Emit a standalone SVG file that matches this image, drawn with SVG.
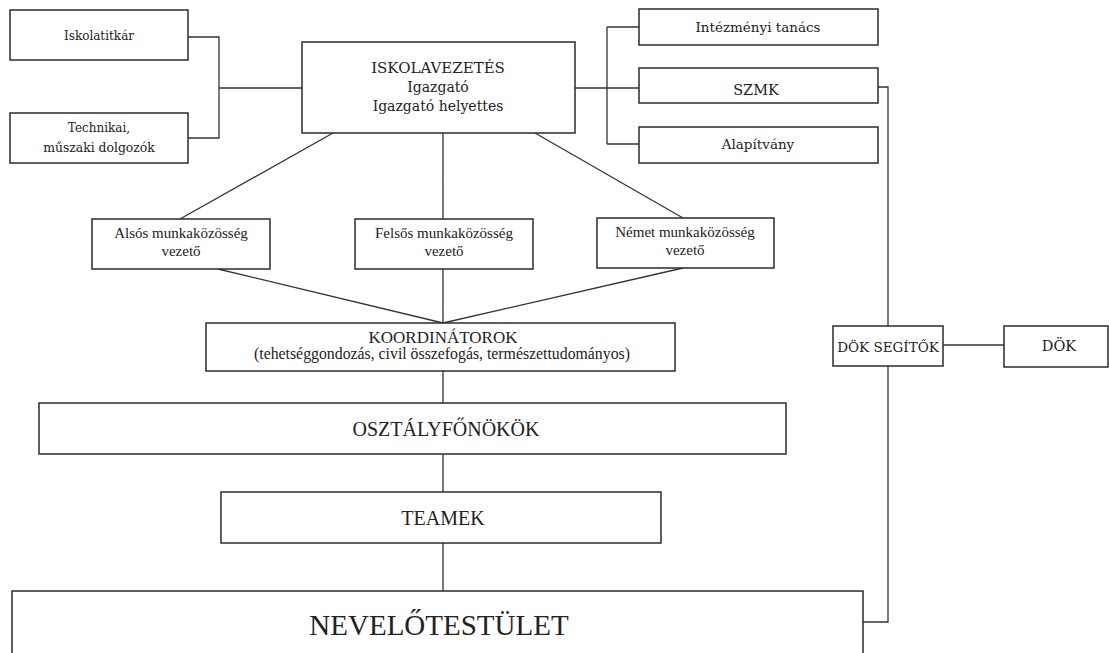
<svg xmlns="http://www.w3.org/2000/svg" width="1109" height="653" viewBox="0 0 1109 653">
<style>
.box{fill:#fff;stroke:#2b2b2b;stroke-width:1.5}
.ln{fill:none;stroke:#333;stroke-width:1.3}
.c{font-family:"DejaVu Serif","Liberation Serif",serif;fill:#222;text-anchor:middle}
.t{font-family:"Liberation Serif","Times New Roman",serif;fill:#222;text-anchor:middle}
</style>
<rect width="1109" height="653" fill="#fff"/>
<g id="connectors">
<path class="ln" d="M188,37 H219 V138 H188 M219,88 H302"/>
<path class="ln" d="M575,88 H639 M607,27 V144 M607,27 H639 M607,144 H639"/>
<path class="ln" d="M878,87 H888 V326 M888,366 V622 H863"/>
<path class="ln" d="M943,345 H1004"/>
<path class="ln" d="M333,133 L180,219 M443,133 V219 M535,133 L683,218"/>
<path class="ln" d="M218,269 L443,323 M443,269 V323 M683,268 L443,323"/>
<path class="ln" d="M443,371 V403 M443,454 V492 M443,543 V591"/>
</g>
<g id="iskolatitkar"><rect class="box" x="10" y="10" width="178" height="50"/><text class="c" x="99" y="40" font-size="12">Iskolatitkár</text></g>
<g id="technikai"><rect class="box" x="10" y="113" width="178" height="50"/><text class="c" x="99" y="132" font-size="12">Technikai,</text><text class="c" x="99" y="152" font-size="12.4">műszaki dolgozók</text></g>
<g id="iskolavezetes"><rect class="box" x="302" y="42" width="273" height="91"/><text class="c" x="438" y="73" font-size="15">ISKOLAVEZETÉS</text><text class="c" x="438" y="92" font-size="14">Igazgató</text><text class="c" x="438" y="111" font-size="14">Igazgató helyettes</text></g>
<g id="intezmenyi"><rect class="box" x="639" y="9" width="239" height="36"/><text class="c" x="758" y="32" font-size="13.5">Intézményi tanács</text></g>
<g id="szmk"><rect class="box" x="639" y="68" width="239" height="35"/><text class="c" x="756" y="95" font-size="14.5">SZMK</text></g>
<g id="alapitvany"><rect class="box" x="639" y="127" width="239" height="36"/><text class="c" x="758" y="149" font-size="13.5">Alapítvány</text></g>
<g id="alsos"><rect class="box" x="92" y="219" width="178" height="50"/><text class="t" x="181" y="238" font-size="15">Alsós munkaközösség</text><text class="t" x="181" y="256" font-size="15">vezető</text></g>
<g id="felsos"><rect class="box" x="355" y="219" width="178" height="50"/><text class="t" x="444" y="238" font-size="15">Felsős munkaközösség</text><text class="t" x="444" y="256" font-size="15">vezető</text></g>
<g id="nemet"><rect class="box" x="597" y="218" width="177" height="50"/><text class="t" x="685" y="237" font-size="15">Német munkaközösség</text><text class="t" x="685" y="255" font-size="15">vezető</text></g>
<g id="koordinatorok"><rect class="box" x="206" y="323" width="469" height="48"/><text class="t" x="443" y="343" font-size="17">KOORDINÁTOROK</text><text class="t" x="442" y="359" font-size="15.8">(tehetséggondozás, civil összefogás, természettudományos)</text></g>
<g id="osztalyfonokok"><rect class="box" x="39" y="403" width="747" height="51"/><text class="t" x="446" y="436" font-size="20">OSZTÁLYFŐNÖKÖK</text></g>
<g id="teamek"><rect class="box" x="221" y="492" width="440" height="51"/><text class="t" x="443" y="525" font-size="20">TEAMEK</text></g>
<g id="nevelotestulet"><rect class="box" x="12" y="591" width="851" height="80"/><text class="t" x="439" y="635" font-size="29">NEVELŐTESTÜLET</text></g>
<g id="dok-segitok"><rect class="box" x="833" y="326" width="110" height="40"/><text class="c" x="888" y="352" font-size="13.5">DÖK SEGÍTŐK</text></g>
<g id="dok"><rect class="box" x="1004" y="326" width="104" height="41"/><text class="c" x="1059" y="351" font-size="14.5">DÖK</text></g>
</svg>
